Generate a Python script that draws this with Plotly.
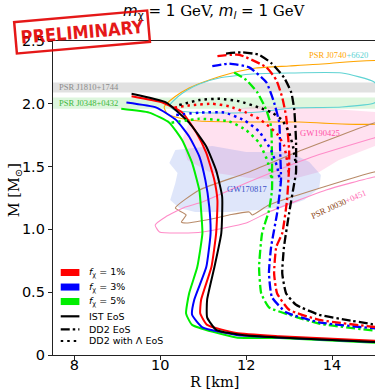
import plotly.graph_objects as go

# ---------------- data (R in km, M in Msun) ----------------
# IST EoS (solid)
ist_black_R = [9.33, 10.14, 10.67, 11.07, 11.30, 11.44, 11.42, 11.26, 11.09, 11.09, 11.30, 11.91, 12.77, 15.2]
ist_black_M = [2.08, 2.01, 1.85, 1.66, 1.47, 1.26, 0.97, 0.70, 0.44, 0.30, 0.20, 0.16, 0.14, 0.10]
ist_red_R = [9.33, 10.05, 10.51, 10.84, 11.07, 11.26, 11.33, 11.30, 11.19, 10.95, 10.93, 11.09, 11.77, 12.77, 15.2]
ist_red_M = [2.06, 2.01, 1.93, 1.77, 1.61, 1.39, 1.23, 0.97, 0.70, 0.44, 0.33, 0.24, 0.175, 0.15, 0.11]
ist_blue_R = [9.21, 9.91, 10.37, 10.67, 10.91, 11.05, 11.14, 11.17, 11.07, 10.79, 10.74, 10.98, 11.77, 12.77, 15.2]
ist_blue_M = [2.01, 1.97, 1.87, 1.74, 1.58, 1.39, 1.18, 0.97, 0.70, 0.44, 0.32, 0.22, 0.16, 0.14, 0.10]
ist_green_R = [9.09, 9.74, 10.21, 10.51, 10.74, 10.91, 10.95, 10.98, 10.86, 10.67, 10.60, 10.74, 11.77, 12.77, 15.2]
ist_green_M = [1.96, 1.93, 1.85, 1.71, 1.53, 1.31, 1.15, 0.97, 0.70, 0.49, 0.33, 0.24, 0.14, 0.135, 0.095]

# DD2 EoS (dash-dot)
dd2_black_R = [11.53, 11.91, 12.30, 12.60, 12.88, 13.05, 13.12, 13.16, 13.16, 13.12, 13.00, 12.88, 12.84, 12.93, 13.16, 13.70, 14.33, 15.2]
dd2_black_M = [2.40, 2.41, 2.39, 2.32, 2.21, 2.09, 1.95, 1.71, 1.45, 1.37, 1.13, 0.86, 0.65, 0.49, 0.40, 0.32, 0.28, 0.23]
dd2_red_R = [11.33, 11.84, 12.47, 12.70, 12.84, 12.93, 13.00, 13.00, 12.95, 12.84, 12.70, 12.65, 12.72, 13.00, 13.70, 15.2]
dd2_red_M = [2.38, 2.39, 2.29, 2.19, 2.05, 1.90, 1.63, 1.50, 1.23, 0.97, 0.86, 0.65, 0.49, 0.36, 0.28, 0.215]
dd2_blue_R = [11.21, 11.60, 12.07, 12.47, 12.65, 12.77, 12.79, 12.81, 12.72, 12.58, 12.53, 12.60, 12.93, 13.70, 15.2]
dd2_blue_M = [2.30, 2.32, 2.29, 2.17, 2.01, 1.85, 1.63, 1.39, 1.13, 0.86, 0.65, 0.46, 0.34, 0.26, 0.205]
dd2_green_R = [11.72, 12.00, 12.26, 12.47, 12.58, 12.60, 12.60, 12.53, 12.37, 12.30, 12.35, 12.53, 13.00, 13.70, 15.2]
dd2_green_M = [2.25, 2.19, 2.09, 1.95, 1.82, 1.58, 1.31, 1.15, 0.97, 0.70, 0.49, 0.38, 0.32, 0.25, 0.185]

# DD2 with Lambda EoS (dotted)
dl_black_R = [10.44, 10.91, 11.37, 11.84, 12.30, 12.60, 12.84, 13.00, 13.09, 13.16]
dl_black_M = [1.99, 2.03, 2.04, 2.02, 1.97, 1.93, 1.87, 1.77, 1.66, 1.51]
dl_red_R = [10.33, 10.74, 11.21, 11.60, 12.00, 12.30, 12.53, 12.72, 12.88, 12.95, 13.00]
dl_red_M = [1.97, 1.99, 2.00, 1.98, 1.93, 1.88, 1.82, 1.76, 1.67, 1.55, 1.43]
dl_blue_R = [10.37, 10.91, 11.49, 11.95, 12.30, 12.58, 12.72, 12.79]
dl_blue_M = [1.91, 1.93, 1.93, 1.87, 1.78, 1.63, 1.50, 1.38]
dl_green_R = [10.26, 10.91, 11.60, 12.00, 12.30, 12.49, 12.60]
dl_green_M = [1.85, 1.88, 1.86, 1.79, 1.69, 1.55, 1.39]

# pulsar mass bands
psr_j1810_M = [2.09, 2.17]
psr_j0348_M = [1.96, 2.05]

# PSR J0740+6620 contours
j0740_orange_R = [10.09, 10.33, 10.67, 11.14, 11.67, 12.23, 13.00, 13.77, 15.3, 15.3, 13.23, 12.07, 10.91, 10.44, 10.16, 10.09]
j0740_orange_M = [1.975, 2.054, 2.126, 2.189, 2.245, 2.285, 2.301, 2.317, 2.33, 1.86, 1.855, 1.855, 1.863, 1.887, 1.919, 1.975]
j0740_cyan_R = [10.21, 10.40, 10.63, 10.91, 11.37, 12.14, 13.00, 14.23, 14.98, 15.15, 14.98, 14.23, 13.07, 12.30, 11.37, 10.67, 10.33, 10.21]
j0740_cyan_M = [1.982, 2.054, 2.110, 2.158, 2.205, 2.237, 2.245, 2.245, 2.174, 2.07, 2.006, 1.975, 1.967, 1.935, 1.927, 1.935, 1.951, 1.982]

# GW190425 region
gw190425_R = [10.51, 10.67, 11.14, 12.30, 13.70, 15.2, 15.2, 14.16, 13.70, 13.00, 12.07, 11.14, 10.63, 10.51]
gw190425_M = [1.712, 1.855, 1.935, 1.982, 1.967, 1.93, 1.69, 1.553, 1.457, 1.393, 1.409, 1.457, 1.553, 1.712]

# GW170817 region
gw170817_R = [10.35, 11.21, 12.00, 13.00, 13.47, 13.74, 13.70, 13.35, 12.88, 12.30, 11.60, 10.81, 10.44, 10.23, 10.35, 10.40, 10.21, 10.35]
gw170817_M = [1.632, 1.664, 1.616, 1.616, 1.537, 1.433, 1.330, 1.234, 1.178, 1.154, 1.139, 1.139, 1.170, 1.234, 1.369, 1.449, 1.529, 1.632]

# PSR J0030+0451 contours
j0030_pink_R = [9.88, 10.12, 10.58, 10.98, 12.00, 13.53, 14.98, 15.3, 15.3, 14.98, 13.86, 12.53, 12.00, 10.98, 10.51, 9.98, 9.88]
j0030_pink_M = [1.035, 1.099, 1.178, 1.218, 1.369, 1.576, 1.728, 1.76, 1.43, 1.417, 1.314, 1.139, 1.051, 0.979, 0.971, 0.979, 1.035]
j0030_brown_R = [10.35, 10.91, 12.00, 13.30, 14.98, 15.3, 15.3, 14.98, 14.33, 12.53, 12.14, 12.07, 11.60, 11.30, 10.60, 10.49, 10.60, 10.35]
j0030_brown_M = [1.170, 1.314, 1.449, 1.632, 1.847, 1.87, 1.48, 1.457, 1.393, 1.194, 1.115, 1.139, 1.115, 1.091, 1.051, 1.059, 1.115, 1.170]

x_ticks = [8, 10, 12, 14]
y_ticks = [0, 0.5, 1.0, 1.5, 2.0, 2.5]
y_ticktext = ["0", "0.5", "1.0", "1.5", "2.0", "2.5"]

legend_labels = ["<i>f</i><sub>χ</sub> = 1%", "<i>f</i><sub>χ</sub> = 3%", "<i>f</i><sub>χ</sub> = 5%",
                 "IST EoS", "DD2 EoS", "DD2 with Λ EoS"]

# ---------------- styles ----------------
RED, BLUE, GREEN, BLACK = "#ff0000", "#0000ff", "#00ee00", "#000000"
DASHDOT = "9px,3px,2.5px,3px"
DOT = "2.5px,4px"

fig = go.Figure()

def region(R, M, fill):
    fig.add_trace(go.Scatter(x=R, y=M, mode="lines", fill="toself", fillcolor=fill,
                             line=dict(color="rgba(0,0,0,0)", width=0),
                             hoverinfo="skip", showlegend=False))

def contour(R, M, color, width=1.1):
    fig.add_trace(go.Scatter(x=R, y=M, mode="lines", line=dict(color=color, width=width,
                             shape="spline", smoothing=0.5), hoverinfo="skip", showlegend=False))

region(gw190425_R, gw190425_M, "rgba(255,105,180,0.2)")
region(gw170817_R, gw170817_M, "rgba(65,105,225,0.17)")
contour(j0740_orange_R, j0740_orange_M, "#ffa500")
contour(j0740_cyan_R, j0740_cyan_M, "#5fd3d3")
contour(j0030_brown_R, j0030_brown_M, "#b88a68")
contour(j0030_pink_R, j0030_pink_M, "#ff8cc8")

def curve(R, M, color, dash, width=2.0):
    fig.add_trace(go.Scatter(x=R, y=M, mode="lines",
                             line=dict(color=color, width=width, dash=dash, shape="spline", smoothing=0.45),
                             hoverinfo="skip", showlegend=False))

for R, M, c in [(ist_green_R, ist_green_M, GREEN), (ist_blue_R, ist_blue_M, BLUE),
                (ist_red_R, ist_red_M, RED), (ist_black_R, ist_black_M, BLACK)]:
    curve(R, M, c, "solid", 2.0)
for R, M, c in [(dd2_green_R, dd2_green_M, GREEN), (dd2_blue_R, dd2_blue_M, BLUE),
                (dd2_red_R, dd2_red_M, RED), (dd2_black_R, dd2_black_M, BLACK)]:
    curve(R, M, c, DASHDOT, 2.3)
for R, M, c in [(dl_green_R, dl_green_M, GREEN), (dl_blue_R, dl_blue_M, BLUE),
                (dl_red_R, dl_red_M, RED), (dl_black_R, dl_black_M, BLACK)]:
    curve(R, M, c, DOT, 2.5)

# bands
fig.add_shape(type="rect", xref="paper", x0=0, x1=1, yref="y", y0=psr_j1810_M[0], y1=psr_j1810_M[1],
              fillcolor="rgba(200,200,200,0.55)", line=dict(width=0), layer="below")
fig.add_shape(type="rect", xref="paper", x0=0, x1=1, yref="y", y0=psr_j0348_M[0], y1=psr_j0348_M[1],
              fillcolor="rgba(120,220,120,0.25)", line=dict(width=0), layer="below")

SERIF = "Liberation Serif, DejaVu Serif, serif"
ann = []
ann.append(dict(xref="paper", x=0.012, yref="y", y=sum(psr_j1810_M) / 2, text="PSR J1810+1744",
                xanchor="left", yanchor="middle", showarrow=False, font=dict(family=SERIF, size=8.5, color="#8c8c8c")))
ann.append(dict(xref="paper", x=0.012, yref="y", y=sum(psr_j0348_M) / 2, text="PSR J0348+0432",
                xanchor="left", yanchor="middle", showarrow=False, font=dict(family=SERIF, size=8.5, color="#3cb83c")))
ann.append(dict(x=14.16, y=2.39, text="<span style='color:#ffa500'>PSR J0740</span><span style='color:#5fd3d3'>+6620</span>",
                xanchor="center", yanchor="middle", showarrow=False, font=dict(family=SERIF, size=8.5)))
ann.append(dict(x=13.72, y=1.77, text="GW190425", xanchor="center", yanchor="middle",
                showarrow=False, font=dict(family=SERIF, size=8.5, color="#ff4fa7")))
ann.append(dict(x=12.02, y=1.32, text="GW170817", xanchor="center", yanchor="middle",
                showarrow=False, font=dict(family=SERIF, size=8.5, color="#3a4fc8")))
ann.append(dict(x=14.16, y=1.2, text="<span style='color:#8b4513'>PSR J0030</span><span style='color:#ff69b4'>+0451</span>",
                xanchor="center", yanchor="middle",
                textangle=-24, showarrow=False, font=dict(family=SERIF, size=8.5)))

# axis titles and title
ann.append(dict(xref="paper", yref="paper", x=0.5, y=-0.086, text="R [km]", showarrow=False,
                xanchor="center", yanchor="middle", font=dict(family="DejaVu Serif", size=14.5, color="black")))
ann.append(dict(xref="paper", yref="paper", x=-0.118, y=0.525, text="M [M<sub>⊙</sub>]", showarrow=False,
                textangle=-90, xanchor="center", yanchor="middle", font=dict(family="DejaVu Serif", size=14.5, color="black")))
ann.append(dict(xref="paper", yref="paper", x=0.5, y=1.093,
                text="<i>m</i><sub>χ</sub> = 1 <span style='font-family:DejaVu Serif'>GeV,</span> <i>m</i><sub><i>l</i></sub> = 1 <span style='font-family:DejaVu Serif'>GeV</span>",
                showarrow=False, xanchor="center", yanchor="middle", font=dict(family="DejaVu Sans", size=15, color="black")))

# PRELIMINARY stamp
ann.append(dict(xref="paper", yref="paper", x=0.09, y=1.03, text="<b>PRELIMINARY</b>", showarrow=False,
                xanchor="center", yanchor="middle", textangle=-5,
                font=dict(family="DejaVu Sans Condensed, Liberation Sans", size=18, color="#e30000"),
                bordercolor="#e30000", borderwidth=2.5, borderpad=4, bgcolor="rgba(255,255,255,0)", opacity=0.9))

# manual legend
LX0, LX1, TX = 0.024, 0.082, 0.105
patch_rows = [(0.2627, RED), (0.2164, BLUE), (0.1703, GREEN)]
for (yc, col), lab in zip(patch_rows, legend_labels[:3]):
    fig.add_shape(type="rect", xref="paper", yref="paper", x0=LX0, x1=LX1, y0=yc - 0.0112, y1=yc + 0.0112,
                  fillcolor=col, line=dict(width=0))
    ann.append(dict(xref="paper", yref="paper", x=TX, y=yc, text=lab, xanchor="left", yanchor="middle",
                    showarrow=False, font=dict(family="DejaVu Sans", size=9.5, color="black")))
line_rows = [(0.1232, "solid"), (0.0818, DASHDOT), (0.0446, DOT)]
for (yc, dsh), lab in zip(line_rows, legend_labels[3:]):
    fig.add_shape(type="line", xref="paper", yref="paper", x0=LX0, x1=LX1, y0=yc, y1=yc,
                  line=dict(color="black", width=2.2, dash=dsh))
    ann.append(dict(xref="paper", yref="paper", x=TX, y=yc, text=lab, xanchor="left", yanchor="middle",
                    showarrow=False, font=dict(family="DejaVu Sans", size=9.5, color="black")))

fig.update_layout(
    width=375, height=389, margin=dict(l=53, r=0, t=41, b=34),
    paper_bgcolor="white", plot_bgcolor="white", showlegend=False,
    annotations=ann,
    xaxis=dict(range=[7.5, 15], tickvals=x_ticks, ticktext=[str(t) for t in x_ticks],
               showgrid=False, zeroline=False, showline=True, linecolor="#222", linewidth=1.3, mirror=True,
               ticks="outside", ticklen=4, tickcolor="#222", ticklabelstandoff=-8,
               tickfont=dict(family="DejaVu Sans", size=14.5, color="black")),
    yaxis=dict(range=[0, 2.5], tickvals=y_ticks, ticktext=y_ticktext,
               showgrid=False, zeroline=False, showline=True, linecolor="#222", linewidth=1.3,
               ticks="outside", ticklen=4, tickcolor="#222",
               tickfont=dict(family="DejaVu Sans", size=14.5, color="black")),
)

fig.write_html("out.html")
